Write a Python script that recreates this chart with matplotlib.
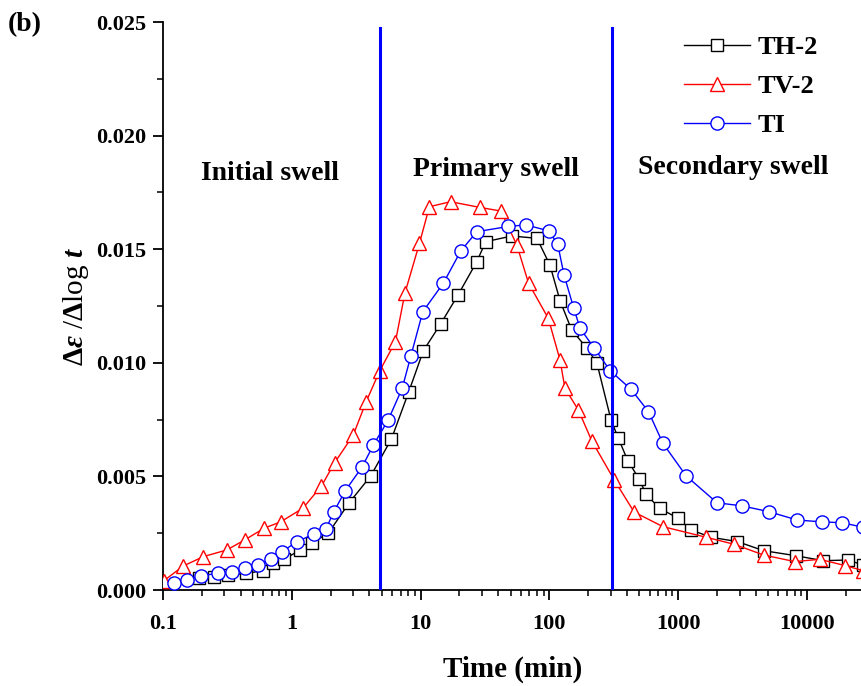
import numpy as np
import matplotlib
matplotlib.use("Agg")
import matplotlib.pyplot as plt
from matplotlib.ticker import FixedLocator, FuncFormatter, MultipleLocator, LogLocator, NullFormatter

plt.rcParams['font.family'] = ['Liberation Serif', 'DejaVu Serif']
plt.rcParams['font.weight'] = 'bold'
plt.rcParams['mathtext.fontset'] = 'custom'
plt.rcParams['mathtext.rm'] = 'Liberation Serif:bold'
plt.rcParams['mathtext.bf'] = 'Liberation Serif:bold'
plt.rcParams['mathtext.it'] = 'Liberation Serif:bold:italic'

# TH-2 (squares)
th2_t = [0.19, 0.25, 0.32, 0.44, 0.60, 0.72, 0.87, 1.16, 1.43, 1.92, 2.79, 4.1, 5.94,
         8.1, 10.5, 14.3, 19.5, 27.3, 32, 51, 80, 101, 121, 149, 196, 234, 301, 343,
         406, 500, 563, 716, 995, 1262, 1806, 2880, 4610, 8180, 13370, 20700, 27400]
th2_v = [0.00051, 0.00056, 0.00066, 0.00073, 0.00085, 0.00117, 0.00135, 0.00176, 0.00208,
         0.0025, 0.00384, 0.00502, 0.00665, 0.00873, 0.01053, 0.01171, 0.01298, 0.01445,
         0.01533, 0.01558, 0.01548, 0.0143, 0.01273, 0.01144, 0.01064, 0.00998, 0.00748,
         0.00668, 0.00569, 0.00487, 0.00421, 0.0036, 0.00316, 0.00264, 0.00232, 0.00213,
         0.00173, 0.00151, 0.00129, 0.00132, 0.0011]

# TV-2 (triangles)
tv2_t = [0.101, 0.144, 0.206, 0.312, 0.43, 0.61, 0.82, 1.22, 1.70, 2.15, 3.0, 3.78, 4.82,
         6.38, 7.55, 9.8, 11.7, 17.1, 28.8, 42, 55.9, 68.9, 98, 121, 132, 168, 213, 319,
         455, 760, 1650, 2690, 4610, 8040, 12580, 19900, 27400]
tv2_v = [0.0004, 0.00106, 0.00147, 0.00176, 0.0022, 0.00272, 0.0030, 0.0036, 0.00458,
         0.0056, 0.00682, 0.00829, 0.00965, 0.01093, 0.01306, 0.01526, 0.01687, 0.01709,
         0.01684, 0.01668, 0.01518, 0.0135, 0.01196, 0.01012, 0.00888, 0.00792, 0.00657,
         0.00484, 0.00343, 0.00279, 0.00232, 0.00202, 0.00154, 0.00125, 0.00135, 0.00107,
         0.00085]

# TI (circles)
ti_t = [0.122, 0.153, 0.196, 0.265, 0.346, 0.435, 0.55, 0.69, 0.84, 1.1, 1.48, 1.84, 2.11,
        2.6, 3.5, 4.3, 5.6, 7.2, 8.4, 10.4, 15, 20.5, 27.3, 47.8, 65.6, 98.6, 116, 130,
        154, 173, 223, 297, 431, 588, 760, 1154, 2000, 3150, 5040, 8390, 12970, 18800, 27400]
ti_v = [0.0003, 0.00044, 0.00063, 0.00073, 0.0008, 0.00095, 0.0011, 0.00136, 0.00169,
        0.00213, 0.00246, 0.00268, 0.00342, 0.00437, 0.0054, 0.00638, 0.00748, 0.00888,
        0.0103, 0.01225, 0.0135, 0.01492, 0.01577, 0.016, 0.01607, 0.01581, 0.01522,
        0.01386, 0.01243, 0.01152, 0.01064, 0.00965, 0.00883, 0.00785, 0.00646, 0.00502,
        0.00384, 0.0037, 0.00345, 0.00308, 0.003, 0.00296, 0.00276]

stage_bounds = [4.8, 305]
stage_names = ["Initial swell", "Primary swell", "Secondary swell"]
stage_pos = [(0.68, 0.01835), (38.5, 0.0185), (2660, 0.0186)]

x_ticks = [0.1, 1, 10, 100, 1000, 10000]

fig = plt.figure(figsize=(8.62, 6.86), dpi=100)
ax = fig.add_axes([163 / 862, 96 / 686, 1 - 163 / 862, 568 / 686])

ms = 9.5
ax.plot(th2_t, th2_v, color="black", lw=1, marker="s", ms=ms - 1.5, mfc="white",
        mec="black", mew=1, label="TH-2", zorder=3)
ax.plot(tv2_t, tv2_v, color="red", lw=1, marker="^", ms=ms, mfc="white",
        mec="red", mew=1, label="TV-2", zorder=3)
ax.plot(ti_t, ti_v, color="blue", lw=1, marker="o", ms=ms, mfc="white",
        mec="blue", mew=1, label="TI", zorder=3)

# stage boundaries
for b in stage_bounds:
    ax.axvline(b, ymin=0, ymax=(0.025 - 0.00025) / 0.025, color="blue", lw=2.2, zorder=4)

for name, (px, py) in zip(stage_names, stage_pos):
    ax.text(px, py, name, ha="center", va="center", fontsize=20, fontweight="bold")

ax.set_xscale("log")
ax.set_xlim(0.1, 10 ** (-1 + 699 / 128.8))
ax.set_ylim(0, 0.025)

ax.xaxis.set_major_locator(FixedLocator(x_ticks))
ax.xaxis.set_major_formatter(FuncFormatter(lambda v, p: "%g" % v))
ax.xaxis.set_minor_locator(LogLocator(base=10, subs=np.arange(2, 10), numticks=20))
ax.xaxis.set_minor_formatter(NullFormatter())
ax.yaxis.set_major_locator(MultipleLocator(0.005))
ax.yaxis.set_minor_locator(MultipleLocator(0.0025))
ax.yaxis.set_major_formatter(FuncFormatter(lambda v, p: "%.3f" % v))

ax.tick_params(which="major", direction="out", length=7, width=1.3, labelsize=16, pad=5)
ax.tick_params(which="minor", direction="out", length=4, width=1.1)
ax.tick_params(axis="x", pad=10)
for lab in ax.get_xticklabels() + ax.get_yticklabels():
    lab.set_fontweight("bold")

ax.spines['right'].set_visible(False)
ax.spines['top'].set_visible(False)
ax.spines['left'].set_linewidth(1.3)
ax.spines['bottom'].set_linewidth(1.3)

ax.set_xlabel("Time (min)", fontsize=21, fontweight="bold", labelpad=16)
ax.set_ylabel(r"$\Delta\mathit{\varepsilon}$ /$\Delta$log $\mathit{t}$", fontsize=21,
              labelpad=4)

leg = ax.legend(loc="upper right", bbox_to_anchor=((818 - 163) / 699, 1 - 14 / 568),
                frameon=False, fontsize=19, handlelength=2.5, handletextpad=0.3,
                labelspacing=0.58, borderaxespad=0, borderpad=0)
for t in leg.get_texts():
    t.set_fontweight("bold")

fig.text(8 / 862, 1 - 25 / 686, "(b)", fontsize=20, fontweight="bold", va="center")

fig.savefig("out.png", dpi=100)
